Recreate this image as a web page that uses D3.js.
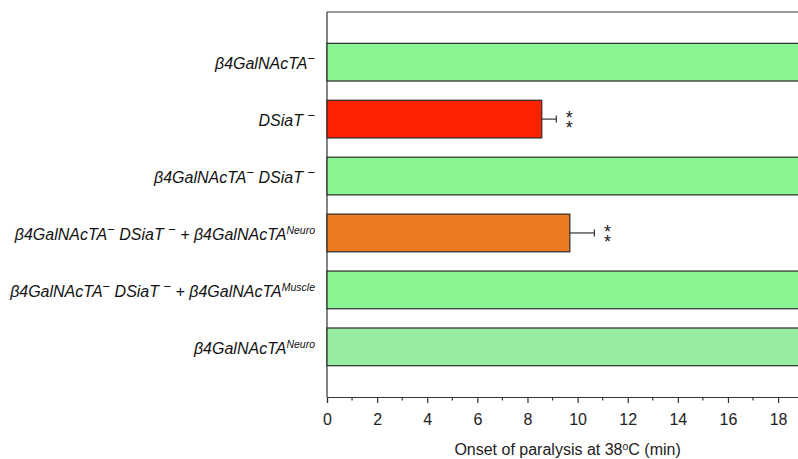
<!DOCTYPE html>
<html>
<head>
<meta charset="utf-8">
<script src="https://cdn.jsdelivr.net/npm/d3@7"></script>
<style>
  html, body { margin: 0; padding: 0; background: #fff; }
  svg { display: block; overflow: hidden; }
</style>
</head>
<body>
<svg id="chart" width="798" height="459"></svg>
<script>
// Genotypes, top to bottom. "^x" marks a superscript run.
const categories = [
  "β4GalNAcTA^−",
  "DSiaT ^−",
  "β4GalNAcTA^− DSiaT ^−",
  "β4GalNAcTA^− DSiaT ^− + β4GalNAcTA^Neuro",
  "β4GalNAcTA^− DSiaT ^− + β4GalNAcTA^Muscle",
  "β4GalNAcTA^Neuro"
];
// Onset of paralysis at 38 °C (min); 20 = no paralysis within the assay window
const onsetMinutes = [20, 8.57, 20, 9.69, 20, 20];
const errorMinutes = [0, 0.58, 0, 0.98, 0, 0];
const significance = ["", "**", "", "**", "", ""];
const barColors = ["#89f491", "#ff2200", "#89f491", "#eb7b23", "#89f491", "#96ec9f"];
const tickValues = [0, 2, 4, 6, 8, 10, 12, 14, 16, 18];
const minorTickValues = [1, 3, 5, 7, 9, 11, 13, 15, 17, 19];

const svg = d3.select("#chart");
const plotLeft = 327, plotTop = 12, plotBottom = 397;
const FONT = "Liberation Sans, Arial, Helvetica, sans-serif";

const x = d3.scaleLinear().domain([0, 19.2]).range([plotLeft, plotLeft + 19.2 * 25.06]);
const y = d3.scaleBand().domain(categories).range([plotTop, plotBottom])
  .paddingInner(0.338).paddingOuter(0.55);

// Plot frame (top edge and left axis line)
svg.append("line").attr("x1", plotLeft).attr("x2", 798).attr("y1", plotTop).attr("y2", plotTop)
  .attr("stroke", "#333").attr("stroke-width", 1.2);
svg.append("line").attr("x1", plotLeft).attr("x2", plotLeft).attr("y1", plotTop).attr("y2", plotBottom)
  .attr("stroke", "#333").attr("stroke-width", 1.2);

// Bars
svg.append("g").selectAll("rect").data(categories).join("rect")
  .attr("x", x(0))
  .attr("y", d => y(d))
  .attr("width", (d, i) => x(onsetMinutes[i]) - x(0))
  .attr("height", y.bandwidth())
  .attr("fill", (d, i) => barColors[i])
  .attr("stroke", "#2a2a2a").attr("stroke-width", 1.2);

// Error bars and significance marks
const eb = svg.append("g").attr("stroke", "#333").attr("stroke-width", 1.2);
categories.forEach((c, i) => {
  if (!errorMinutes[i]) return;
  const cy = y(c) + y.bandwidth() / 2;
  const x1 = x(onsetMinutes[i]), x2 = x(onsetMinutes[i] + errorMinutes[i]);
  eb.append("line").attr("x1", x1).attr("x2", x2).attr("y1", cy).attr("y2", cy);
  eb.append("line").attr("x1", x2).attr("x2", x2).attr("y1", cy - 3.5).attr("y2", cy + 3.5);
  // asterisks stacked vertically in one text
  const st = svg.append("text").attr("x", x2 + 13).attr("y", cy + 5)
    .attr("text-anchor", "middle").attr("font-family", FONT)
    .attr("font-size", 18).attr("fill", "#222");
  significance[i].split("").forEach((s, k) => {
    st.append("tspan").attr("x", x2 + 13).attr("dy", k === 0 ? 0 : 10).text(s);
  });
});

// Category labels with superscripts
const labels = svg.append("g").attr("font-family", FONT)
  .attr("font-style", "italic").attr("font-size", 16).attr("fill", "#111");
categories.forEach(c => {
  const t = labels.append("text").attr("x", 315)
    .attr("y", y(c) + y.bandwidth() / 2 + 7).attr("text-anchor", "end");
  const parts = c.split(/(\^\S+)/).filter(p => p.length);
  let raised = false;
  parts.forEach(p => {
    if (p.startsWith("^")) {
      const sup = p.slice(1);
      const isMinus = sup === "−";
      t.append("tspan").attr("dy", -6).attr("font-size", isMinus ? 13 : 10.5)
        .attr("font-style", isMinus ? "normal" : "italic").text(sup);
      raised = true;
    } else {
      const ts = t.append("tspan").text(p);
      if (raised) { ts.attr("dy", 6); raised = false; }
    }
  });
});

// X axis
const axisG = svg.append("g").attr("transform", `translate(0,${plotBottom})`);
axisG.call(d3.axisBottom(x).tickValues(tickValues).tickSize(6).tickPadding(11).tickFormat(d3.format("d")))
  .call(g => g.select(".domain").attr("stroke", "#333").attr("stroke-width", 1.2))
  .call(g => g.selectAll(".tick line").attr("stroke", "#333").attr("stroke-width", 1.2))
  .call(g => g.selectAll(".tick text").attr("font-family", FONT)
    .attr("font-size", 16).attr("fill", "#222"));
axisG.selectAll(".minor").data(minorTickValues).join("line")
  .attr("class", "minor").attr("x1", d => x(d)).attr("x2", d => x(d))
  .attr("y1", 0).attr("y2", 3.5).attr("stroke", "#333").attr("stroke-width", 1.2);

// Axis title
const title = svg.append("text").attr("x", (x.range()[0] + x.range()[1]) / 2).attr("y", 455)
  .attr("text-anchor", "middle").attr("font-family", FONT)
  .attr("font-size", 16).attr("fill", "#222");
title.append("tspan").text("Onset of paralysis at 38");
title.append("tspan").attr("dy", -5).attr("font-size", 10.5).text("o");
title.append("tspan").attr("dy", 5).text("C (min)");
</script>
</body>
</html>
